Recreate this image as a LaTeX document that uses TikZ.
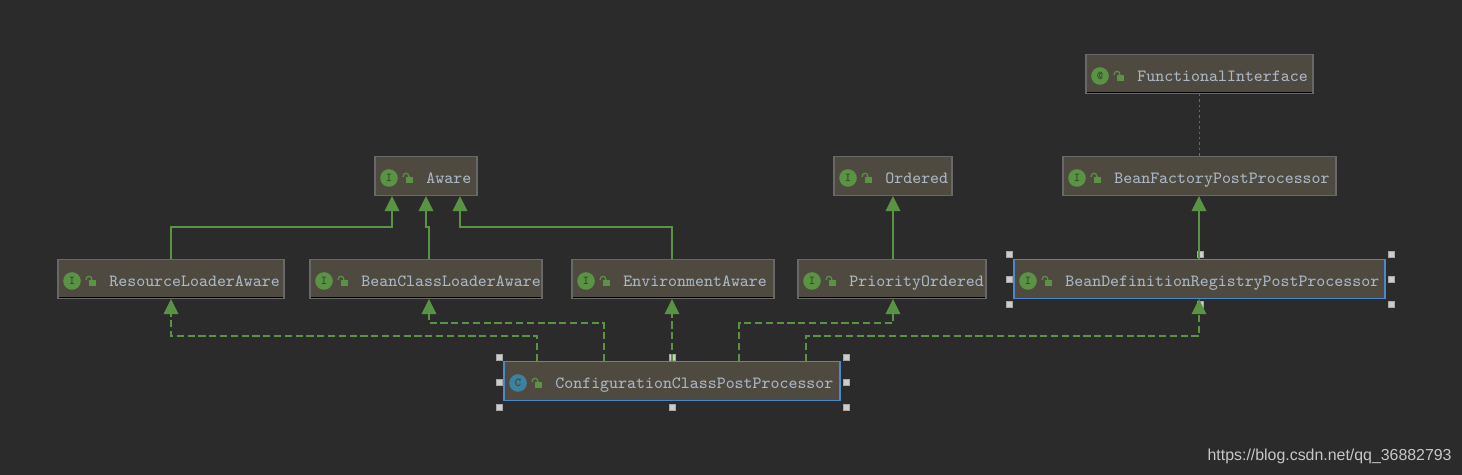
\documentclass[tikz,border=0pt]{standalone}
\usepackage{fontspec}
\setsansfont{Liberation Sans}
\usetikzlibrary{arrows.meta}
\definecolor{canvas}{HTML}{2B2B2B}
\definecolor{boxfill}{HTML}{4F4A3F}
\definecolor{boxedge}{HTML}{686868}
\definecolor{selblue}{HTML}{4A88C7}
\definecolor{ifgreen}{HTML}{5B9345}
\definecolor{ifdark}{HTML}{2F4F26}
\definecolor{clsteal}{HTML}{3C829F}
\definecolor{labelblue}{HTML}{A9B7C6}
\definecolor{dotolive}{HTML}{6F6F45}
\begin{document}
\begin{tikzpicture}[
  x=0.5pt, y=-0.5pt,
  umlbox/.style={draw=boxedge, fill=boxfill, line width=0.6pt, rectangle,
                 minimum height=19.8pt, inner sep=0pt, outer sep=0pt},
  shadowed/.style={umlbox, path picture={
      \draw[black, line width=0.7pt]
        ([yshift=0.7pt]path picture bounding box.south west) --
        ([yshift=0.7pt]path picture bounding box.south east);}},
  selbox/.style={umlbox, draw=selblue},
  badge/.style={circle, fill=ifgreen, minimum size=8.8pt, inner sep=0pt,
                text=ifdark, font=\ttfamily\bfseries\fontsize{6}{6}\selectfont},
  lbl/.style={anchor=west, inner sep=0pt, text=labelblue, text height=5.6pt, text depth=1.6pt,
              font=\ttfamily\fontsize{8.54}{10}\selectfont},
  handle/.style={rectangle, fill=black!20, draw=black!35, line width=0.2pt,
                 minimum size=3.2pt, inner sep=0pt},
  ext/.style={draw=ifgreen, line width=0.6pt,
              -{Triangle[width=7.4pt,length=7.6pt,fill=ifgreen]}},
  impl/.style={ext, dash pattern=on 3.6pt off 1.8pt},
]
\fill[canvas] (0,0) rectangle (1462,475);
\useasboundingbox (0,0) rectangle (1462,475);
% Boxes
\node[shadowed, minimum width=113.5pt] (fi) at (1199.5,74) {};
\node[umlbox, minimum width=51pt] (aware) at (426,176) {};
\node[umlbox, minimum width=59pt] (ordered) at (893,176) {};
\node[umlbox, minimum width=136.5pt] (bfpp) at (1199.5,176) {};
\node[shadowed, minimum width=113pt] (rla) at (171,279) {};
\node[shadowed, minimum width=116pt] (bcla) at (426,279) {};
\node[shadowed, minimum width=101pt] (env) at (673,279) {};
\node[shadowed, minimum width=94pt] (prio) at (892,279) {};
\node[selbox, minimum width=185.5pt] (bdrpp) at (1199.5,279) {};
\node[selbox, minimum width=168pt] (cfg) at (672,381) {};
% Icons, locks and names
\foreach \nm/\glyph/\col/\txt in {fi/@/ifgreen/FunctionalInterface,
    aware/I/ifgreen/Aware, ordered/I/ifgreen/Ordered,
    bfpp/I/ifgreen/BeanFactoryPostProcessor,
    rla/I/ifgreen/ResourceLoaderAware, bcla/I/ifgreen/BeanClassLoaderAware,
    env/I/ifgreen/EnvironmentAware, prio/I/ifgreen/PriorityOrdered,
    bdrpp/I/ifgreen/BeanDefinitionRegistryPostProcessor,
    cfg/C/clsteal/ConfigurationClassPostProcessor} {
  \node[badge, fill=\col] (\nm-icon) at ([xshift=7pt,yshift=-1pt]\nm.west) {\glyph};
  \fill[ifgreen, shift={(\nm-icon.center)}] (17,-1) rectangle (24,5);
  \draw[ifgreen, line width=0.6pt, shift={(\nm-icon.center)}]
    (14,-1) .. controls (14,-6) and (20,-6) .. (20,-1);
  \node[lbl] (\nm-name) at ([xshift=25.5pt,yshift=-1.7pt]\nm.west) {\txt};
}
% Selection handles
\foreach \hx/\hy [count=\i] in {499/357, 672/357, 846/357, 499/382, 846/382,
    499/407, 672/407, 846/407, 1009/254, 1200/254, 1391/254, 1009/279,
    1391/279, 1009/304, 1200/304, 1391/304}
  \node[handle] (h\i) at (\hx,\hy) {};
% Ports
\coordinate (awareA) at (392,196);
\coordinate (awareB) at (426,196);
\coordinate (awareC) at (460,196);
\coordinate (rlaTop) at (171,259);
\coordinate (rlaLow) at (171,299);
\coordinate (bclaTop) at (429,259);
\coordinate (bclaLow) at (429,299);
\coordinate (envTop) at (672,259);
\coordinate (envLow) at (672,299);
\coordinate (prioTop) at (893,259);
\coordinate (prioLow) at (893,299);
\coordinate (orderedLow) at (893,196);
\coordinate (bdrTop) at (1199,259);
\coordinate (bdrLow) at (1199,299);
\coordinate (bfppLow) at (1199,196);
\coordinate (cfgA) at (537,361);
\coordinate (cfgB) at (604,361);
\coordinate (cfgC) at (672,361);
\coordinate (cfgD) at (739,361);
\coordinate (cfgE) at (806,361);
% Connectors
\draw[draw=dotolive, line width=0.5pt, dash pattern=on 1.2pt off 1.5pt] (fi) -- (bfpp);
\draw[ext] (bdrTop) -- (bfppLow);
\draw[ext] (prioTop) -- (orderedLow);
\draw[ext] (rlaTop) -- ++(0,-32) -| (awareA);
\draw[ext] (bclaTop) -- ++(0,-32) -- ++(-3,0) -- (awareB);
\draw[ext] (envTop) -- ++(0,-32) -| (awareC);
\draw[impl] (cfgA) -- ++(0,-25) -| (rlaLow);
\draw[impl] (cfgB) -- ++(0,-38) -| (bclaLow);
\draw[impl] (cfgC) -- (envLow);
\draw[impl] (cfgD) -- ++(0,-38) -| (prioLow);
\draw[impl] (cfgE) -- ++(0,-25) -| (bdrLow);
% Watermark
\node[anchor=east, inner sep=0pt, text=black!22, font=\sffamily\fontsize{7.95}{10}\selectfont]
  (mark) at (1452,456) {https://blog.csdn.net/qq\_36882793};
\end{tikzpicture}
\end{document}
